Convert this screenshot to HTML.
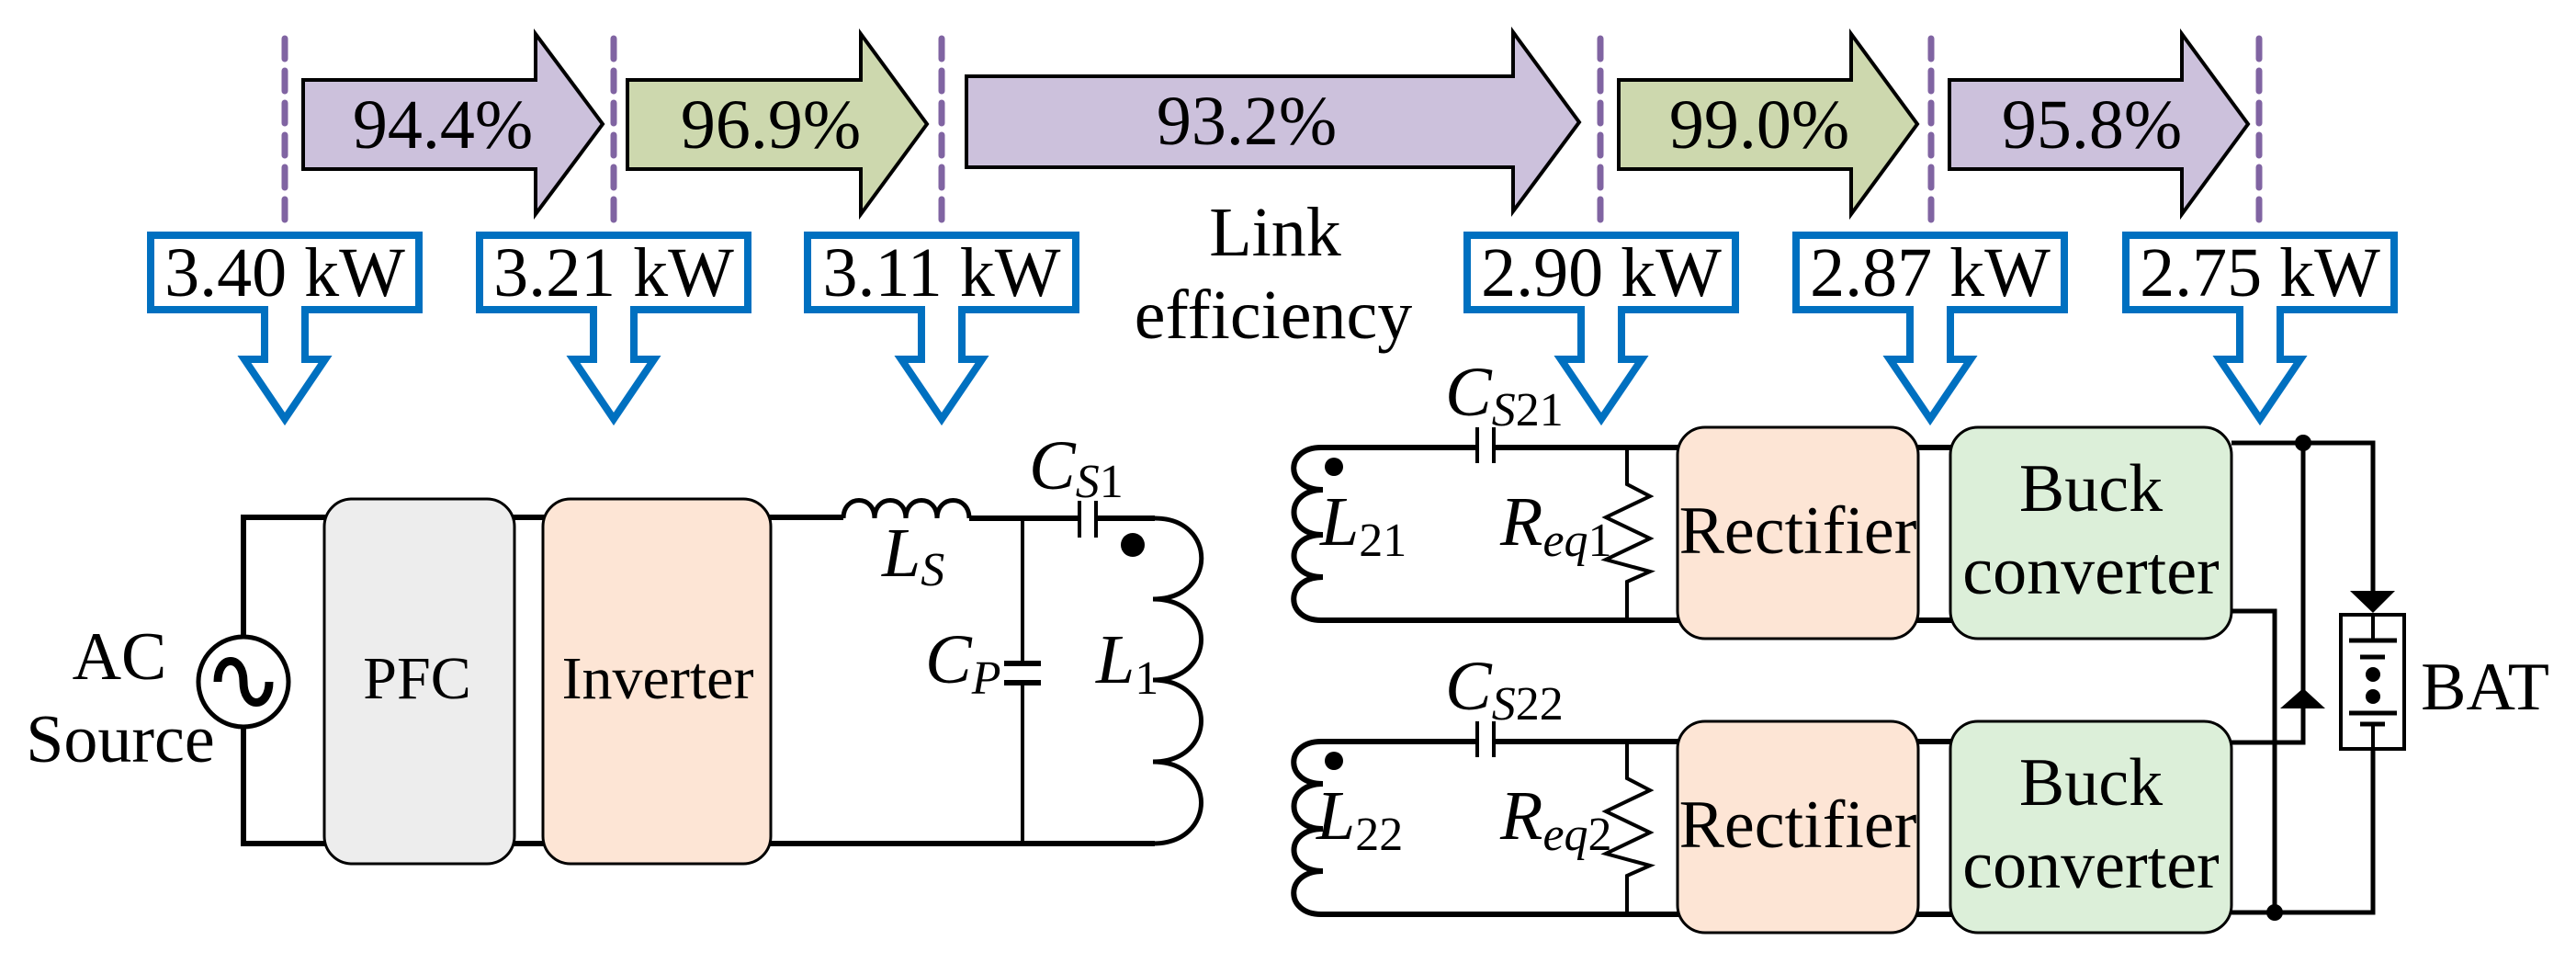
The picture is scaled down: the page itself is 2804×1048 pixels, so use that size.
<!DOCTYPE html>
<html><head><meta charset="utf-8"><style>
html,body{margin:0;padding:0;background:#fff;}
svg{display:block;}
svg text{font-family:"Liberation Serif","DejaVu Serif",serif !important;fill:#000;}
.it{font-style:italic;}
</style></head><body>
<svg width="2804" height="1048" viewBox="0 0 2804 1048" xmlns="http://www.w3.org/2000/svg" font-family="Liberation Serif, serif">
<!-- dashed lines -->
<g stroke="#8064a2" stroke-width="7" stroke-dasharray="22 13" stroke-linecap="round">
<line x1="310" y1="42" x2="310" y2="252"/>
<line x1="668" y1="42" x2="668" y2="252"/>
<line x1="1025" y1="42" x2="1025" y2="252"/>
<line x1="1742" y1="42" x2="1742" y2="252"/>
<line x1="2102" y1="42" x2="2102" y2="252"/>
<line x1="2459" y1="42" x2="2459" y2="252"/>
</g>
<!-- efficiency arrows -->
<g stroke="#000" stroke-width="4" stroke-linejoin="miter">
<path d="M330 87 H583 V37 L656 135 L583 233 V184 H330 Z" fill="#ccc1dc"/>
<path d="M683 87 H937 V37 L1009 135 L937 233 V184 H683 Z" fill="#cdd8ae"/>
<path d="M1052 83 H1647 V35 L1719 133 L1647 230 V182 H1052 Z" fill="#ccc1dc"/>
<path d="M1762 87 H2015 V37 L2087 135 L2015 233 V184 H1762 Z" fill="#cdd8ae"/>
<path d="M2122 87 H2375 V37 L2447 135 L2375 233 V184 H2122 Z" fill="#ccc1dc"/>
</g>
<g font-size="76" text-anchor="middle" font-family="Liberation Serif, serif">
<text x="482" y="161">94.4%</text>
<text x="839" y="161">96.9%</text>
<text x="1357" y="157">93.2%</text>
<text x="1915" y="161">99.0%</text>
<text x="2277" y="161">95.8%</text>
<text x="1388" y="278">Link</text>
<text x="1386" y="368">efficiency</text>
</g>
<!-- blue callouts -->
<g stroke="#0070c0" stroke-width="8" fill="#fff" stroke-linejoin="miter">
<path d="M164 256 H456 V337 H332 V391 H354 L310 456 L266 391 H288 V337 H164 Z"/>
<path d="M522 256 H814 V337 H690 V391 H712 L668 456 L624 391 H646 V337 H522 Z"/>
<path d="M879 256 H1171 V337 H1047 V391 H1069 L1025 456 L981 391 H1003 V337 H879 Z"/>
<path d="M1597 256 H1889 V337 H1765 V391 H1787 L1743 456 L1699 391 H1721 V337 H1597 Z"/>
<path d="M1955 256 H2247 V337 H2123 V391 H2145 L2101 456 L2057 391 H2079 V337 H1955 Z"/>
<path d="M2314 256 H2606 V337 H2482 V391 H2504 L2460 456 L2416 391 H2438 V337 H2314 Z"/>
</g>
<g font-size="76" text-anchor="middle" font-family="Liberation Serif, serif">
<text x="310" y="322">3.40 kW</text>
<text x="668" y="322">3.21 kW</text>
<text x="1025" y="322">3.11 kW</text>
<text x="1743" y="322">2.90 kW</text>
<text x="2101" y="322">2.87 kW</text>
<text x="2460" y="322">2.75 kW</text>
</g>

<!-- LEFT CIRCUIT -->
<g stroke="#000" fill="none" stroke-width="6">
<path d="M265 692 V563 H360"/>
<path d="M265 792 V918 H360"/>
<path d="M555 563 H595 M555 918 H595"/>
<path d="M835 563 H918 M835 918 H1257"/>
<path d="M1055 564 H1175 M1193 564 H1257"/>
<path d="M918 564 C918 538 952 538 952 564 C952 538 986 538 986 564 C986 538 1020 538 1020 564 C1020 538 1055 538 1055 564" stroke-width="5"/>
<path d="M1257 564 C1325 564 1325 652 1255 652 C1325 652 1325 740 1255 740 C1325 740 1325 829 1255 829 C1325 829 1325 918 1255 918" stroke-width="5"/>
</g>
<g stroke="#000" stroke-width="4" fill="none">
<line x1="1113" y1="564" x2="1113" y2="722"/>
<line x1="1113" y1="743" x2="1113" y2="918"/>
<line x1="1175" y1="545" x2="1175" y2="585"/>
<line x1="1193" y1="545" x2="1193" y2="585"/>
</g>
<g stroke="#000" stroke-width="6"><line x1="1093" y1="722" x2="1133" y2="722"/><line x1="1093" y1="743" x2="1133" y2="743"/></g>
<circle cx="1233" cy="593" r="13" fill="#000"/>
<circle cx="265" cy="742" r="49" fill="#fff" stroke="#000" stroke-width="5"/>
<path d="M237 742 C237 712 265 712 265 742 C265 772 293 772 293 742" stroke="#000" stroke-width="9" fill="none"/>
<rect x="353" y="543" width="207" height="397" rx="30" fill="#ededed" stroke="#000" stroke-width="3"/>
<rect x="591" y="543" width="248" height="397" rx="30" fill="#fde5d5" stroke="#000" stroke-width="3"/>
<g font-size="66" text-anchor="middle" font-family="Liberation Serif, serif">
<text x="454" y="760">PFC</text>
<text x="716" y="760">Inverter</text>
</g>
<text x="130" y="739" font-size="74" text-anchor="middle" font-family="Liberation Serif, serif">AC</text>
<text x="131" y="829" font-size="74" text-anchor="middle" font-family="Liberation Serif, serif">Source</text>
<text x="960" y="627" font-size="76" class="it" font-family="Liberation Serif, serif">L<tspan font-size="52" dy="10">S</tspan></text>
<text x="1120" y="532" font-size="76" class="it" font-family="Liberation Serif, serif">C<tspan font-size="52" dy="9">S</tspan><tspan font-size="52" font-style="normal">1</tspan></text>
<text x="1007" y="743" font-size="76" class="it" font-family="Liberation Serif, serif">C<tspan font-size="52" dy="12">P</tspan></text>
<text x="1193" y="743" font-size="76" class="it" font-family="Liberation Serif, serif">L<tspan font-size="52" dy="12" font-style="normal">1</tspan></text>

<!-- RIGHT CIRCUITS -->
<g id="rc">
<g stroke="#000" fill="none" stroke-width="6">
<path d="M1608 487 H1438 C1398 487 1398 533 1440 533 C1398 533 1398 582 1440 582 C1398 582 1398 628 1440 628 C1398 628 1398 675 1438 675 H1830"/>
<path d="M1626 487 H1830"/>
<path d="M2085 487 H2128 M2085 675 H2128"/>
</g>
<g stroke="#000" stroke-width="4" fill="none">
<line x1="1608" y1="465" x2="1608" y2="504"/>
<line x1="1626" y1="465" x2="1626" y2="504"/>
<polyline points="1771,487 1771,527 1796,540 1748,563 1796,586 1748,609 1796,622 1771,633 1771,675"/>
</g>
<circle cx="1452" cy="508" r="10" fill="#000"/>
<rect x="1826" y="465" width="262" height="230" rx="30" fill="#fde5d5" stroke="#000" stroke-width="3"/>
<rect x="2123" y="465" width="306" height="230" rx="30" fill="#dcefd9" stroke="#000" stroke-width="3"/>
<text x="1957" y="602" font-size="74" text-anchor="middle" font-family="Liberation Serif, serif">Rectifier</text>
<text x="2276" y="556" font-size="74" text-anchor="middle" font-family="Liberation Serif, serif">Buck</text>
<text x="2276" y="646" font-size="74" text-anchor="middle" font-family="Liberation Serif, serif">converter</text>
</g>
<use href="#rc" transform="translate(0,320)"/>
<text x="1437" y="593" font-size="76" class="it" font-family="Liberation Serif, serif">L<tspan font-size="52" dy="12" font-style="normal">21</tspan></text>
<text x="1633" y="593" font-size="76" class="it" font-family="Liberation Serif, serif">R<tspan font-size="52" dy="12">eq</tspan><tspan font-size="52" font-style="normal">1</tspan></text>
<text x="1573" y="452" font-size="76" class="it" font-family="Liberation Serif, serif">C<tspan font-size="52" dy="11">S</tspan><tspan font-size="52" font-style="normal">21</tspan></text>
<text x="1433" y="913" font-size="76" class="it" font-family="Liberation Serif, serif">L<tspan font-size="52" dy="12" font-style="normal">22</tspan></text>
<text x="1633" y="913" font-size="76" class="it" font-family="Liberation Serif, serif">R<tspan font-size="52" dy="12">eq</tspan><tspan font-size="52" font-style="normal">2</tspan></text>
<text x="1573" y="772" font-size="76" class="it" font-family="Liberation Serif, serif">C<tspan font-size="52" dy="11">S</tspan><tspan font-size="52" font-style="normal">22</tspan></text>

<!-- right side wiring -->
<g stroke="#000" fill="none" stroke-width="5">
<path d="M2429 482 H2583 V650"/>
<path d="M2507 482 V808 H2429"/>
<path d="M2429 665 H2476 V993"/>
<path d="M2429 993 H2583 V815"/>
</g>
<circle cx="2507" cy="482" r="9" fill="#000"/>
<circle cx="2476" cy="993" r="9" fill="#000"/>
<polygon points="2558,643 2607,643 2583,667" fill="#000"/>
<polygon points="2482,771 2531,771 2507,749" fill="#000"/>
<rect x="2548" y="669" width="69" height="146" fill="#fff" stroke="#000" stroke-width="4"/>
<line x1="2583" y1="669" x2="2583" y2="697" stroke="#000" stroke-width="4"/>
<line x1="2583" y1="788" x2="2583" y2="815" stroke="#000" stroke-width="4"/>
<g stroke="#000" stroke-width="5">
<line x1="2557" y1="697" x2="2609" y2="697"/>
<line x1="2569" y1="715" x2="2596" y2="715"/>
<line x1="2557" y1="776" x2="2609" y2="776"/>
<line x1="2569" y1="788" x2="2596" y2="788"/>
</g>
<circle cx="2583" cy="734" r="8" fill="#000"/>
<circle cx="2583" cy="758" r="8" fill="#000"/>
<text x="2705" y="772" font-size="74" text-anchor="middle" font-family="Liberation Serif, serif">BAT</text>
</svg>
</body></html>
